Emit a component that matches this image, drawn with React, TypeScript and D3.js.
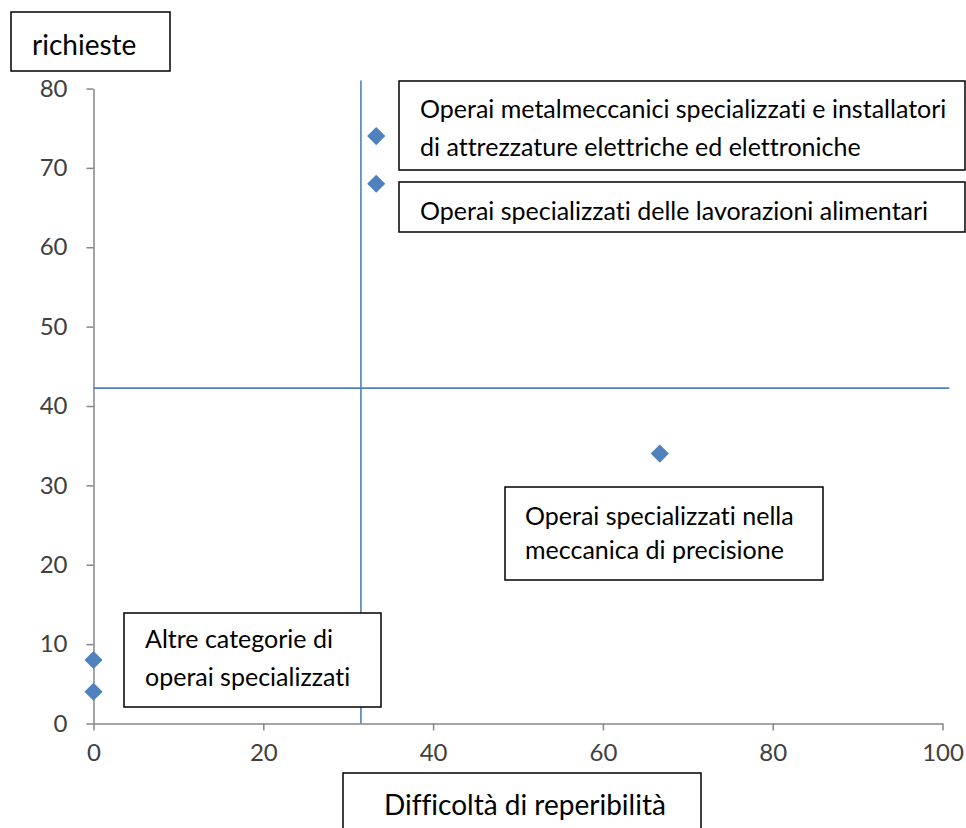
import React, { useRef, useEffect } from 'react';
import * as d3 from 'd3';

// valori
const difficolta = [0, 0, 33.3, 33.3, 66.7];
const richieste = [8, 4, 74, 68, 34];
const xTicks = [0, 20, 40, 60, 80, 100];
const yTicks = [0, 10, 20, 30, 40, 50, 60, 70, 80];
const sogliaDifficolta = 31.5;
const sogliaRichieste = 42.25;
const etichette = [
  ['Operai metalmeccanici specializzati e installatori', 'di attrezzature elettriche ed elettroniche'],
  ['Operai specializzati delle lavorazioni alimentari'],
  ['Operai specializzati nella', 'meccanica di precisione'],
  ['Altre categorie di', 'operai specializzati'],
];
const titoloY = 'richieste';
const titoloX = 'Difficoltà di reperibilità';

const FONT = 'Lato, "Open Sans", sans-serif';
const BLU = '#4F81BD';

const App = () => {
  const svgRef = useRef(null);

  useEffect(() => {
    const width = 966;
    const height = 828;

    const svg = d3.select(svgRef.current)
      .attr('width', width)
      .attr('height', height);
    svg.selectAll('*').remove();

    const x = d3.scaleLinear().domain([0, 100]).range([93.5, 942.5]);
    const y = d3.scaleLinear().domain([0, 80]).range([723.5, 88.5]);

    // assi
    const yAxis = svg.append('g')
      .attr('transform', `translate(${x(0)},0)`)
      .call(d3.axisLeft(y).tickValues(yTicks).tickSize(7).tickSizeOuter(0).tickPadding(19));
    const xAxis = svg.append('g')
      .attr('transform', `translate(0,${y(0)})`)
      .call(d3.axisBottom(x).tickValues(xTicks).tickSize(7).tickSizeOuter(0).tickPadding(13));

    [xAxis, yAxis].forEach(ax => {
      ax.select('.domain').attr('stroke', '#868686').attr('stroke-width', 1.5);
      ax.selectAll('.tick line').attr('stroke', '#868686').attr('stroke-width', 1.5);
      ax.selectAll('.tick text')
        .attr('fill', '#404040')
        .style('font-family', FONT)
        .style('font-size', '24px');
    });

    // linee di soglia
    svg.append('line')
      .attr('x1', x(sogliaDifficolta)).attr('x2', x(sogliaDifficolta))
      .attr('y1', y(0)).attr('y2', y(81))
      .attr('stroke', BLU).attr('stroke-width', 1.6);
    svg.append('line')
      .attr('x1', x(0)).attr('x2', x(100.8))
      .attr('y1', y(sogliaRichieste)).attr('y2', y(sogliaRichieste))
      .attr('stroke', BLU).attr('stroke-width', 1.6);

    // punti (rombi)
    const rombo = d3.symbol().type(d3.symbolSquare).size(165);
    svg.append('g')
      .selectAll('path')
      .data(difficolta.map((d, i) => [d, richieste[i]]))
      .enter()
      .append('path')
      .attr('d', rombo)
      .attr('transform', d => `translate(${x(d[0])},${y(d[1])}) rotate(45)`)
      .attr('fill', BLU);

    // caselle di testo
    const caselle = [
      { box: [11, 12, 159, 59], tx: 32, ty: [55], righe: [titoloY], size: 28 },
      { box: [399, 81, 566, 89], tx: 420, ty: [118, 156], righe: etichette[0], size: 25 },
      { box: [399, 182, 566, 50], tx: 420, ty: [220], righe: etichette[1], size: 25 },
      { box: [505, 487, 318, 93], tx: 525, ty: [525, 559], righe: etichette[2], size: 25 },
      { box: [124, 613, 257, 94], tx: 145, ty: [648, 686], righe: etichette[3], size: 25 },
      { box: [343, 773, 358, 70], tx: 384, ty: [815], righe: [titoloX], size: 28 },
    ];

    caselle.forEach(c => {
      const g = svg.append('g');
      g.append('rect')
        .attr('x', c.box[0]).attr('y', c.box[1])
        .attr('width', c.box[2]).attr('height', c.box[3])
        .attr('fill', 'white')
        .attr('stroke', 'black')
        .attr('stroke-width', 1.5);
      c.righe.forEach((r, i) => {
        g.append('text')
          .attr('x', c.tx)
          .attr('y', c.ty[i])
          .text(r)
          .style('font-family', FONT)
          .style('font-size', `${c.size}px`)
          .style('font-variant-ligatures', 'none')
          .attr('fill', 'black');
      });
    });
  }, []);

  return <svg ref={svgRef} style={{ position: 'absolute', left: 0, top: 0 }}></svg>;
};

export default App;
